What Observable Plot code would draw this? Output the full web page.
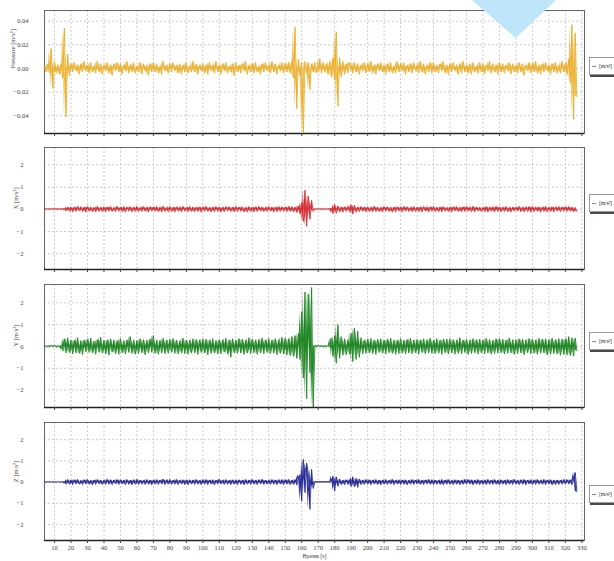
<!DOCTYPE html>
<html>
<head>
<meta charset="utf-8">
<script src="https://cdn.jsdelivr.net/npm/d3@7"></script>
<script src="https://cdn.jsdelivr.net/npm/@observablehq/plot@0.6"></script>
<style>
  body { margin: 0; background: #fff; }
  #chart { position: relative; width: 614px; height: 561px; overflow: hidden; background: #fff; }
  .panel { position: absolute; left: 0; }
  .key {
    position: absolute; left: 589px; width: 32px; height: 16px;
    border: 1px solid #9a9a9a; background: #fff; box-shadow: 1px 2px 0 #4a4a4a;
    font: 5.8px "Liberation Serif", serif; letter-spacing: -0.2px; line-height: 16px; color: #333; white-space: nowrap;
  }
  .key .dash { display: inline-block; width: 4px; border-top: 1px solid #888; vertical-align: middle; margin: 0 3px 0 2px; }
  .flag { position: absolute; left: 472px; top: 0; width: 84px; height: 38px; background: #bfe5fa; clip-path: polygon(0 0, 100% 0, 52% 100%); }
</style>
</head>
<body>
<div id="chart"></div>
<script>
// Recording: one sample per second, starting at t = 4 s
const startSecond = 4;

// Pressure channel (rows of 10 s; first row 4–9 s, last row 320–327 s)
const pressure = [
  .002,-.003,.004,-.004,.017,-.017,
  .006,-.004,.003,-.005,.004,-.008,.034,-.041,.012,-.006,
  .004,-.003,.005,-.002,.003,-.005,.004,-.003,.006,-.002,
  .003,-.004,.005,-.003,.002,-.004,.006,-.003,.004,-.005,
  .003,-.002,.005,-.004,.003,-.006,.004,-.002,.005,-.003,
  .004,-.005,.003,-.002,.006,-.004,.003,-.003,.005,-.004,
  .002,-.003,.005,-.005,.004,-.002,.003,-.006,.004,-.003,
  .005,-.003,.004,-.004,.002,-.005,.006,-.002,.003,-.004,
  .004,-.003,.005,-.002,.003,-.004,.004,-.005,.003,-.003,
  .005,-.004,.002,-.003,.006,-.003,.004,-.005,.003,-.002,
  .004,-.004,.003,-.005,.005,-.002,.003,-.004,.006,-.003,
  .003,-.005,.004,-.002,.005,-.004,.002,-.003,.004,-.006,
  .005,-.003,.003,-.004,.004,-.002,.006,-.005,.003,-.003,
  .004,-.004,.005,-.003,.002,-.005,.004,-.003,.005,-.002,
  .003,-.004,.006,-.003,.004,-.005,.003,-.002,.005,-.004,
  .004,-.003,.005,-.004,.006,-.008,.035,-.034,.008,-.006,
  .005,-.054,.006,-.004,.005,-.018,.004,-.003,.005,-.004,
  -.002,.008,-.004,.005,-.003,.004,-.005,.006,-.007,.009,
  -.01,.031,-.032,.009,-.007,.006,-.005,.004,-.004,.005,
  .003,-.004,.005,-.003,.004,-.005,.003,-.002,.005,-.004,
  .004,-.003,.006,-.004,.003,-.005,.004,-.002,.005,-.003,
  .003,-.005,.004,-.003,.005,-.004,.002,-.004,.006,-.003,
  .004,-.002,.005,-.005,.003,-.003,.004,-.004,.005,-.002,
  .003,-.004,.006,-.003,.004,-.005,.003,-.003,.005,-.004,
  .005,-.003,.003,-.004,.004,-.002,.006,-.004,.003,-.005,
  .004,-.003,.005,-.002,.003,-.005,.004,-.004,.006,-.003,
  .003,-.004,.004,-.005,.005,-.003,.002,-.004,.005,-.003,
  .004,-.005,.003,-.002,.006,-.004,.004,-.003,.003,-.005,
  .005,-.003,.004,-.004,.003,-.002,.005,-.005,.004,-.003,
  .003,-.004,.005,-.003,.004,-.006,.003,-.002,.005,-.004,
  .004,-.003,.006,-.004,.003,-.005,.004,-.003,.005,-.002,
  .003,-.005,.004,-.003,.005,-.004,.003,-.004,.006,-.003,
  .004,-.005,.008,-.012,.037,-.043,.03,-.024
];

// Acceleration along X
const accelX = [
  .02,-.02,.02,-.02,.02,-.02,
  .02,-.02,.02,-.02,.02,-.02,.03,-.08,.1,-.09,
  .1,-.12,.09,-.1,.13,-.08,.11,-.1,.09,-.13,
  .12,-.09,.1,-.11,.08,-.12,.13,-.1,.09,-.1,
  .11,-.12,.1,-.09,.12,-.1,.08,-.11,.13,-.09,
  .09,-.1,.12,-.13,.1,-.08,.11,-.12,.09,-.1,
  .13,-.11,.08,-.1,.12,-.09,.1,-.13,.11,-.08,
  .1,-.09,.12,-.11,.09,-.12,.14,-.1,.08,-.11,
  .12,-.1,.09,-.13,.11,-.08,.1,-.12,.13,-.09,
  .08,-.11,.12,-.1,.1,-.12,.09,-.1,.11,-.13,
  .11,-.09,.13,-.1,.08,-.12,.1,-.11,.12,-.09,
  .1,-.13,.09,-.11,.12,-.08,.11,-.1,.09,-.12,
  .13,-.1,.1,-.09,.11,-.12,.08,-.13,.12,-.1,
  .09,-.12,.11,-.1,.13,-.09,.1,-.11,.08,-.1,
  .12,-.08,.1,-.13,.09,-.11,.12,-.1,.11,-.09,
  .1,-.11,.13,-.1,.12,-.12,.1,-.14,.15,-.2,
  .3,-.55,.86,-.77,.6,-.45,.4,-.1,.02,-.02,
  .02,-.02,.02,-.02,.02,-.02,.02,-.02,.05,-.2,
  .22,-.18,.15,-.12,.1,-.13,.11,-.09,.12,-.1,
  .2,-.22,.18,-.13,.1,-.11,.12,-.09,.1,-.12,
  .11,-.1,.09,-.12,.13,-.1,.1,-.11,.08,-.12,
  .12,-.09,.11,-.1,.09,-.13,.1,-.12,.11,-.08,
  .1,-.12,.13,-.09,.11,-.1,.08,-.11,.12,-.1,
  .09,-.11,.1,-.12,.12,-.08,.11,-.13,.1,-.09,
  .13,-.1,.09,-.11,.1,-.12,.12,-.09,.08,-.1,
  .1,-.13,.11,-.08,.12,-.1,.09,-.12,.11,-.1,
  .12,-.09,.1,-.11,.13,-.12,.1,-.08,.09,-.11,
  .08,-.1,.12,-.13,.1,-.09,.11,-.12,.13,-.1,
  .11,-.12,.09,-.1,.12,-.11,.08,-.13,.1,-.09,
  .1,-.08,.13,-.11,.09,-.12,.11,-.1,.12,-.13,
  .12,-.11,.1,-.09,.11,-.13,.09,-.1,.13,-.12,
  .09,-.1,.11,-.12,.1,-.08,.12,-.11,.1,-.09,
  .11,-.1,.12,-.09,.1,-.12,.08,-.1
];

// Acceleration along Y
const accelY = [
  .04,-.04,.03,-.04,.04,-.03,
  .04,-.04,.03,-.04,.04,-.2,.35,-.3,.4,-.28,
  .3,-.35,.28,-.3,.4,-.32,.27,-.38,.3,-.25,
  .33,-.28,.38,-.3,.25,-.36,.31,-.27,.42,-.3,
  .28,-.34,.3,-.4,.35,-.26,.3,-.33,.27,-.37,
  .36,-.3,.26,-.35,.3,-.28,.45,-.32,.3,-.36,
  .27,-.33,.35,-.29,.31,-.38,.28,-.3,.34,-.27,
  .5,-.32,.3,-.36,.28,-.3,.37,-.34,.29,-.31,
  .33,-.27,.36,-.32,.3,-.35,.26,-.3,.38,-.33,
  .3,-.36,.28,-.31,.35,-.29,.32,-.37,.3,-.28,
  .35,-.3,.33,-.38,.29,-.32,.36,-.3,.27,-.35,
  .31,-.34,.3,-.27,.37,-.33,.3,-.5,.35,-.3,
  .28,-.32,.36,-.3,.33,-.37,.29,-.31,.4,-.33,
  .34,-.29,.3,-.36,.32,-.3,.38,-.34,.3,-.28,
  .36,-.33,.29,-.3,.35,-.38,.31,-.32,.42,-.35,
  .38,-.4,.35,-.42,.45,-.45,.5,-.55,.6,-.6,
  1.6,-1.45,2.5,-2.4,2.4,-1.2,2.7,-2.8,.05,-.04,
  .04,-.03,.04,-.04,.03,-.04,.04,-.03,.38,-.46,
  .5,-.77,1.0,-.55,.45,-.4,.35,-.38,.3,-.35,
  .6,-.7,.84,-.6,.7,-.5,.4,-.35,.3,-.32,
  .34,-.3,.36,-.33,.29,-.37,.32,-.28,.35,-.31,
  .3,-.35,.33,-.29,.38,-.32,.3,-.36,.28,-.33,
  .36,-.31,.29,-.34,.32,-.3,.37,-.33,.3,-.29,
  .32,-.36,.3,-.28,.35,-.34,.31,-.3,.38,-.32,
  .29,-.33,.36,-.31,.3,-.37,.33,-.29,.34,-.35,
  .35,-.3,.31,-.36,.29,-.32,.4,-.34,.3,-.28,
  .33,-.37,.3,-.32,.36,-.29,.31,-.35,.34,-.3,
  .3,-.34,.37,-.3,.32,-.36,.28,-.33,.35,-.31,
  .36,-.29,.33,-.35,.3,-.32,.38,-.3,.31,-.37,
  .31,-.33,.35,-.3,.34,-.38,.3,-.29,.36,-.34,
  .34,-.31,.3,-.36,.37,-.32,.33,-.3,.35,-.39,
  .32,-.36,.38,-.33,.31,-.35,.36,-.4,.34,-.37,
  .35,-.4,.45,-.42,.4,-.45,.38,-.2
];

// Acceleration along Z
const accelZ = [
  .02,-.02,.02,-.02,.02,-.02,
  .02,-.02,.02,-.02,.02,-.02,.02,-.1,.12,-.1,
  .1,-.12,.11,-.09,.13,-.1,.08,-.12,.11,-.1,
  .12,-.1,.09,-.13,.1,-.11,.12,-.08,.1,-.12,
  .09,-.11,.13,-.1,.11,-.12,.1,-.09,.12,-.11,
  .11,-.09,.1,-.12,.12,-.1,.09,-.13,.11,-.1,
  .13,-.12,.1,-.1,.09,-.11,.12,-.1,.1,-.13,
  .1,-.1,.12,-.11,.1,-.09,.14,-.12,.11,-.1,
  .12,-.11,.09,-.1,.13,-.12,.1,-.09,.11,-.12,
  .1,-.13,.11,-.09,.1,-.11,.12,-.1,.09,-.12,
  .11,-.1,.12,-.12,.1,-.09,.11,-.13,.1,-.1,
  .13,-.09,.1,-.11,.12,-.1,.09,-.12,.11,-.1,
  .1,-.12,.11,-.1,.09,-.13,.12,-.1,.1,-.11,
  .12,-.1,.1,-.12,.11,-.09,.13,-.11,.1,-.1,
  .09,-.11,.12,-.1,.1,-.12,.11,-.09,.12,-.13,
  .11,-.1,.13,-.12,.1,-.11,.12,-.14,.2,.35,
  -.9,1.07,-.5,.9,.45,-1.28,.6,-.3,.02,-.02,
  .02,-.02,.02,-.02,.02,-.02,.02,-.02,.02,.28,
  -.42,.25,-.2,.15,-.12,.1,-.13,.11,-.1,.12,
  -.2,.25,-.22,.18,-.25,.15,-.12,.1,-.11,.12,
  -.1,.11,-.12,.1,-.09,.12,-.11,.1,-.13,.09,
  -.1,.12,-.11,.09,-.1,.13,-.12,.1,-.09,.11,
  -.12,.1,-.1,.11,-.13,.09,-.1,.12,-.11,.1,
  -.09,.12,-.11,.1,-.12,.1,-.09,.13,-.1,.11,
  -.12,.1,-.1,.09,-.11,.12,-.13,.1,-.1,.12,
  -.11,.09,-.12,.11,-.1,.1,-.12,.09,-.11,.13,
  -.1,.12,-.09,.11,-.13,.1,-.1,.12,-.12,.09,
  -.11,.1,-.12,.13,-.1,.09,-.11,.12,-.1,.1,
  -.13,.11,-.1,.09,-.12,.12,-.1,.1,-.11,.13,
  -.1,.09,-.12,.11,-.1,.12,-.13,.1,-.09,.11,
  -.12,.1,-.11,.12,-.1,.09,-.1,.13,-.12,.1,
  -.09,.11,-.13,.1,-.12,.1,-.11,.09,-.1,.12,
  -.1,.12,-.09,.11,-.12,.1,.45,-.45
];

const timeTicks = [10,20,30,40,50,60,70,80,90,100,110,120,130,140,150,160,170,180,190,200,210,220,230,240,250,260,270,280,290,300,310,320,330];
const pressureTicks = [-0.04, -0.02, 0, 0.02, 0.04];
const accelTicks = [-2, -1, 0, 1, 2];
const channelNames = ["Pressure [m/s²]", "X [m/s²]", "Y [m/s²]", "Z [m/s²]"];
const channelColors = ["#e9a81a", "#d3262b", "#15801a", "#1c1f8e"];
const timeTitle = "Время [s]";
const unitKey = "[m/s²]";

const font = "Liberation Serif, serif";
const chart = document.getElementById("chart");

const panels = [
  {values: pressure, domain: [-0.055, 0.049], ticks: pressureTicks, format: d3.format(".2f"), top: 0,   height: 140, mt: 10, mb: 7,  pad: 16, dx: -32, key: 57,  fillOpacity: 0.75},
  {values: accelX,   domain: [-2.71, 2.78],   ticks: accelTicks,    format: d3.format("d"),   top: 140, height: 140, mt: 7,  mb: 11, pad: 21, dx: -29, key: 194, fillOpacity: 0.9},
  {values: accelY,   domain: [-2.8, 2.84],    ticks: accelTicks,    format: d3.format("d"),   top: 280, height: 140, mt: 4,  mb: 13, pad: 21, dx: -29, key: 332, fillOpacity: 0.9},
  {values: accelZ,   domain: [-2.75, 2.81],   ticks: accelTicks,    format: d3.format("d"),   top: 420, height: 141, mt: 2,  mb: 21, pad: 21, dx: -29, key: 485, fillOpacity: 0.9}
];

panels.forEach((p, k) => {
  const last = k === panels.length - 1;
  const times = p.values.map((_, i) => startSecond + i);
  // the following sample, so the band spans each swing between neighbours
  const following = p.values.map((v, i) => i + 1 < p.values.length ? p.values[i + 1] : v);
  const color = channelColors[k];
  const marks = [
    Plot.gridX(timeTicks, {stroke: "#cccccc", strokeOpacity: 1, strokeDasharray: "2,2"}),
    Plot.gridY(p.ticks, {stroke: "#cccccc", strokeOpacity: 1, strokeDasharray: "2,2"}),
    Plot.frame({stroke: "#666"}),
    Plot.ruleY([p.domain[0]], {stroke: "#222", strokeWidth: 1.6}),
    Plot.areaY(p.values, {x: times, y1: p.values, y2: following, fill: color, fillOpacity: p.fillOpacity, clip: true}),
    Plot.lineY(p.values, {x: times, stroke: color, strokeWidth: 0.8, clip: true}),
    Plot.axisY(p.ticks, {tickSize: 0, tickPadding: p.pad, tickFormat: p.format, label: null, fontSize: 6.5, fill: "#444"}),
    Plot.axisX(timeTicks, {tickSize: 3, tickPadding: 2, tickFormat: last ? d3.format("d") : () => "", label: null, fontSize: 6.5, fill: "#444", stroke: "#444"}),
    Plot.text([channelNames[k]], {y: () => 0, frameAnchor: "left", dx: p.dx, rotate: -90, fontSize: 6.5, fill: "#444"})
  ];
  if (last) marks.push(Plot.text([timeTitle], {frameAnchor: "bottom", dy: 17, fontSize: 6, fill: "#444"}));

  const svg = Plot.plot({
    width: 614,
    height: p.height,
    marginLeft: 44,
    marginRight: 30,
    marginTop: p.mt,
    marginBottom: p.mb,
    style: {fontFamily: font, background: "transparent", overflow: "visible"},
    x: {domain: [3.9, 331.6]},
    y: {domain: p.domain},
    marks
  });
  svg.classList.add("panel");
  svg.style.top = p.top + "px";
  chart.appendChild(svg);

  const key = document.createElement("div");
  key.className = "key";
  key.style.top = p.key + "px";
  key.innerHTML = '<span class="dash"></span>' + unitKey;
  chart.appendChild(key);
});

const flag = document.createElement("div");
flag.className = "flag";
chart.appendChild(flag);
</script>
</body>
</html>
